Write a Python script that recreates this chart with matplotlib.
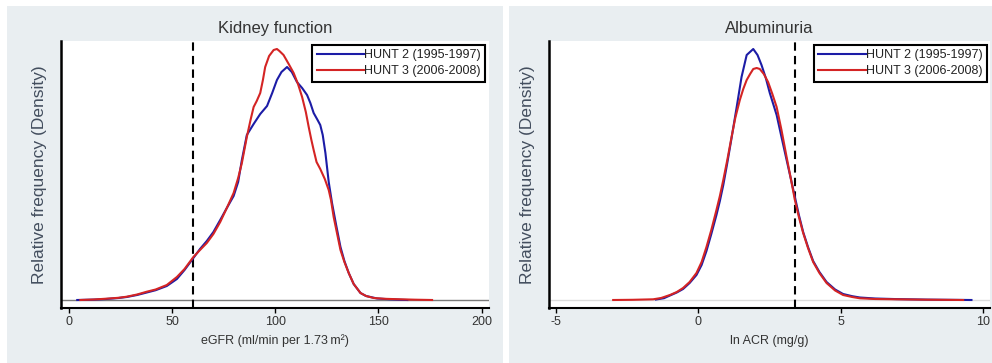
import matplotlib
matplotlib.use("Agg")
import matplotlib.pyplot as plt
from matplotlib.patches import Rectangle

plt.rcParams['font.family'] = ['Liberation Sans', 'DejaVu Sans']

# ---------------- data (relative density) ----------------
egfr_h2_x = [4, 12, 18, 24, 28, 33, 37.7, 42, 47.4, 52.3, 56, 60.3, 63.5, 66.8, 70, 73.3,
             76.5, 79.8, 82, 83.8, 86.2, 89.5, 92.7, 96, 98.5, 100.8, 103, 105.7, 108,
             110.5, 113, 115.4, 117, 118.6, 120.5, 121.8, 123, 124.3, 125.9, 127.5, 129.5,
             131.6, 133.5, 135.6, 138, 141.3, 144, 149.4, 155, 160, 164]
egfr_h2_y = [0, 0.4, 1.0, 2.0, 3.0, 5, 7.5, 9.8, 14, 21, 30, 42, 51, 59, 68, 80,
             92, 104, 118, 140, 165, 176, 186, 194, 207, 220, 228, 233, 228,
             218, 212, 205, 197, 187, 180, 175, 165, 147, 118, 97, 75,
             53, 39, 27, 16, 7, 4, 1.5, 0.8, 0.3, 0]

egfr_h3_x = [5.5, 12, 18, 24, 28, 33, 37.7, 42, 47.4, 52.3, 56, 60.3, 63.5, 66.8, 70, 73.3,
             76.5, 79.8, 82, 83.8, 86.2, 88, 89.5, 91, 92.7, 94, 95.1, 97, 99.2, 100.8,
             102, 104, 106.5, 108.9, 111, 113, 114.8, 116.2, 117.5, 118.6, 120, 121.8,
             124, 125.9, 127, 128.3, 130, 131.6, 133.5, 135.6, 138, 141.3, 144, 147.7,
             153, 160.7, 168, 176]
egfr_h3_y = [0, 0.5, 1.3, 2.2, 3.3, 5.5, 8.3, 10.5, 15, 23, 31, 43, 50, 57, 66, 78,
             92, 107, 122, 137, 163, 180, 193, 199, 207, 220, 233, 244, 250, 251,
             249, 245, 236, 227, 216, 203, 188, 173, 160, 150, 138, 131,
             121, 110, 100, 83, 66, 50, 38, 27, 16, 7, 4, 2,
             1.2, 0.7, 0.3, 0]

acr_h2_x = [-1.48, -1.2, -0.99, -0.75, -0.53, -0.3, -0.06, 0.12, 0.29, 0.46, 0.64, 0.76,
            0.88, 1.02, 1.17, 1.35, 1.52, 1.70, 1.93, 2.08, 2.22, 2.37, 2.51, 2.63, 2.75,
            2.92, 3.10, 3.25, 3.39, 3.53, 3.68, 3.85, 4.03, 4.25, 4.50, 4.8, 5.08, 5.4,
            5.67, 6.2, 6.95, 8.0, 9.58]
acr_h2_y = [0.5, 1.8, 4.5, 7.5, 11, 17, 25, 35, 49, 66, 85, 99,
            115, 137, 162, 193, 223, 245, 251, 245, 235, 222, 207, 196, 185,
            163, 140, 121, 103, 85, 68, 53, 39, 28, 18, 10.5, 6, 3.8,
            2.5, 1.5, 0.9, 0.4, 0]

acr_h3_x = [-2.98, -2.3, -1.58, -1.3, -0.99, -0.75, -0.53, -0.3, -0.06, 0.12, 0.29, 0.46,
            0.64, 0.76, 0.88, 1.02, 1.17, 1.3, 1.46, 1.58, 1.70, 1.82, 1.93, 2.05, 2.16,
            2.3, 2.45, 2.6, 2.75, 2.92, 3.10, 3.25, 3.39, 3.53, 3.68, 3.85, 4.03, 4.25,
            4.50, 4.8, 5.08, 5.4, 5.67, 6.2, 6.95, 8.0, 9.29]
acr_h3_y = [0, 0.2, 0.7, 2, 5, 8, 12, 18, 27, 38, 53, 70,
            90, 104, 120, 140, 163, 182, 200, 211, 220, 226, 231, 232, 231,
            226, 218, 206, 193, 170, 143, 121, 100, 83, 67, 52, 38, 27,
            17, 9.5, 5, 3, 1.7, 1.0, 0.7, 0.3, 0]

series_labels = ["HUNT 2 (1995-1997)", "HUNT 3 (2006-2008)"]
titles = ["Kidney function", "Albuminuria"]
xlabels = ["eGFR (ml/min per 1.73\u2009m\u00b2)", "ln ACR (mg/g)"]
left_ticks = [0, 50, 100, 150, 200]
left_ticklabels = ["0", "50", "100", "150", "200"]
right_ticks = [-5, 0, 5, 10]
right_ticklabels = ["-5", "0", "5", "10"]
cutoffs = [60, 3.4]

# ---------------- figure ----------------
W, H = 992, 363
fig = plt.figure(figsize=(W / 100, H / 100), dpi=100)
fig.patch.set_facecolor('white')

panel_bg = '#e9eef1'
fig.patches.append(Rectangle((7 / W, 0), (503 - 7) / W, (H - 6) / H,
                             transform=fig.transFigure, facecolor=panel_bg,
                             edgecolor='none', zorder=-5))
fig.patches.append(Rectangle((509 / W, 0), (W - 509) / W, (H - 6) / H,
                             transform=fig.transFigure, facecolor=panel_bg,
                             edgecolor='none', zorder=-5))

blue = '#1c1ca6'
red = '#d42424'

axL = fig.add_axes([61 / W, (H - 308) / H, (489 - 61) / W, (308 - 41) / H])
axR = fig.add_axes([549 / W, (H - 308) / H, (990 - 549) / W, (308 - 41) / H])

configs = [
    (axL, egfr_h2_x, egfr_h2_y, egfr_h3_x, egfr_h3_y, (-3.88, 203.6), left_ticks,
     left_ticklabels, '#7a7a7a', 0.991),
    (axR, acr_h2_x, acr_h2_y, acr_h3_x, acr_h3_y, (-5.23, 10.23), right_ticks,
     right_ticklabels, '#dcdcdc', 0.993),
]

for i, (ax, x2, y2, x3, y3, xl, ticks, tlabels, zcol, lx) in enumerate(configs):
    ax.set_facecolor('white')
    ax.axhline(0, color=zcol, lw=1.0, zorder=1)
    ax.axvline(cutoffs[i], color='black', lw=1.5, ls=(0, (4, 2.5)), zorder=2)
    ax.plot(x2, y2, color=blue, lw=1.5, label=series_labels[0], zorder=3)
    ax.plot(x3, y3, color=red, lw=1.5, label=series_labels[1], zorder=4)
    ax.set_xlim(*xl)
    ax.set_ylim(-8, 259)
    ax.set_xticks(ticks)
    ax.set_xticklabels(tlabels)
    ax.set_yticks([])
    for s in ['top', 'right']:
        ax.spines[s].set_visible(False)
    ax.spines['left'].set_linewidth(1.8)
    ax.spines['bottom'].set_linewidth(1.5)
    ax.tick_params(axis='x', direction='out', length=3.5, width=1, pad=2,
                   labelsize=9, colors='black', labelcolor='#333333')
    ax.set_title(titles[i], fontsize=12, color='#333333', pad=6)
    ax.set_xlabel(xlabels[i], fontsize=9, color='#333333', labelpad=5)
    ax.set_ylabel("Relative frequency (Density)", fontsize=12.5, color='#434e5e',
                  labelpad=10)
    leg = ax.legend(loc='upper right', bbox_to_anchor=(lx, 0.985), borderaxespad=0,
                    fontsize=9, handlelength=3.8, handletextpad=0.0,
                    borderpad=0.35, labelspacing=0.3, fancybox=False,
                    framealpha=1, edgecolor='black')
    leg.get_frame().set_linewidth(1.5)
    for t in leg.get_texts():
        t.set_color('#222222')

fig.savefig('out.png', dpi=100, facecolor=fig.get_facecolor())
